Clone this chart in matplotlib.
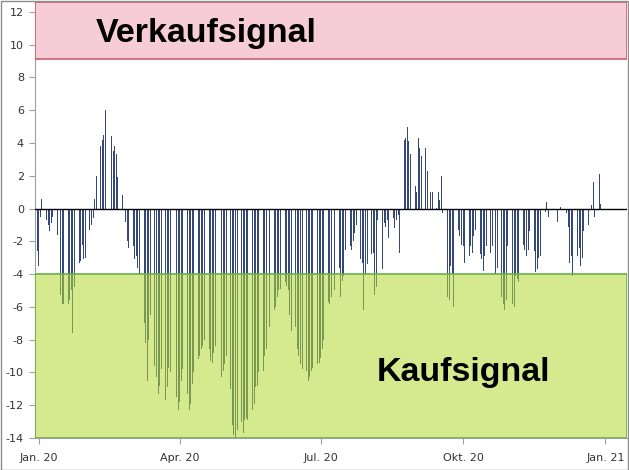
import matplotlib
matplotlib.use("Agg")
import matplotlib.pyplot as plt
import matplotlib.dates as mdates
import pandas as pd
import numpy as np

# ---- data (one line per trading week, starting Mon 30.12.2019) ----
values = [
    -2.3, -2.6, -3.5, -0.5, 0.6,
    -0.7, -1.0, -1.4, -0.9, -0.5,
    -1.6, -3.8, -5.3, -5.8, -5.8,
    -5.8, -5.6, -5.0, -7.6, -4.8,
    -3.3, -3.2, -2.2, -3.1, -3.0,
    -1.3, -1.0, -0.6, 0.6, 2.0,
    3.8, 4.2, 4.5, 6.0, 4.3,
    4.4, 3.5, 3.8, 3.3, 1.9,
    0.8, -0.3, -0.8, -2.0, -2.4,
    -2.3, -3.1, -2.9, -3.6, -4.0,
    -7.0, -8.2, -10.5, -8.0, -6.5,
    -9.6, -10.3, -11.3, -10.8, -9.8,
    -11.7, -10.9, -9.7, -10.0, -10.4,
    -11.5, -12.3, -11.8, -10.5, -9.8,
    -11.3, -12.3, -11.9, -10.7, -10.0,
    -9.2, -9.0, -8.6, -8.4, -8.0,
    -8.6, -9.3, -9.4, -8.8, -8.4,
    -9.6, -10.3, -9.9, -9.5, -9.0,
    -11.0, -13.2, -13.8, -14.0, -13.5,
    -13.0, -13.7, -12.9, -12.8, -12.9,
    -12.3, -11.9, -10.9, -10.8, -10.0,
    -9.9, -9.0, -8.6, -7.4, -7.2,
    -6.2, -6.0, -5.4, -5.0, -4.9,
    -4.5, -4.7, -5.0, -6.5, -7.5,
    -7.2, -8.6, -9.0, -9.5, -9.8,
    -9.9, -10.5, -10.3, -9.9, -9.7,
    -9.5, -9.4, -9.1, -8.6, -8.0,
    -5.7, -5.8, -5.4, -5.6, -5.0,
    -3.6, -5.4, -4.4, -4.1, -2.5,
    -2.3, -2.5, -2.0, -1.5, -1.0,
    -3.1, -3.3, -6.2, -4.0, -3.4,
    -2.8, -2.7, -5.3, -4.8, -0.7,
    -3.7, -0.9, -1.1, -0.7, -1.8,
    -0.6, -1.2, -0.7, -0.4, -2.7,
    4.2, 4.3, 5.0, 4.1, 3.3,
    1.4, 1.0, 4.3, 3.7, 3.2,
    3.7, 2.3, 2.2, 1.0, 1.0,
    0.05, 1.0, 0.5, 2.0, -0.3,
    -5.4, -5.6, -3.5, -4.0, -6.0,
    -1.3, -1.7, -2.2, -2.3, -3.3,
    -2.9, -2.3, -2.7, -1.7, -1.3,
    -2.8, -3.1, -3.8, -2.9, -2.3,
    -2.7, -2.3, -3.9, -4.0, -3.6,
    -5.4, -5.8, -6.2, -5.6, -2.3,
    -5.8, -6.0, -4.1, -4.3, -4.5,
    -2.2, -2.5, -2.9, -2.5, -1.4,
    -2.6, -3.9, -3.7, -3.0, -2.9,
    -0.2, 0.4, -0.5, -0.1, 0.0,
    0.0, -0.8, 0.0, 0.1, 0.0,
    -0.3, -1.1, -3.3, -2.9, -4.1,
    -2.9, -2.4, -3.5, -3.0, -1.4,
    -1.0, 0.5, 0.2, 1.6, -0.5,
    2.1, 0.3,
]
start_date = "2019-12-30"
tick_dates = ["2020-01-01", "2020-04-01", "2020-07-01", "2020-10-01", "2021-01-01"]
tick_labels = ["Jan. 20", "Apr. 20", "Jul. 20", "Okt. 20", "Jan. 21"]
sell_zone = (9.1, 12.6)
buy_zone = (-14.0, -4.0)
sell_label = "Verkaufsignal"
buy_label = "Kaufsignal"

dates = pd.bdate_range(start_date, periods=len(values))

fig = plt.figure(figsize=(6.29, 4.70), dpi=100)
ax = fig.add_axes([35 / 629, 32 / 470, 592 / 629, 436 / 470])

ax.bar(dates, values, width=0.62, color="#34497a", edgecolor="none",
       linewidth=0, antialiased=False, zorder=2)

ax.axhline(0, color="black", linewidth=1.0, zorder=3)

x0 = mdates.date2num(pd.Timestamp("2019-12-29 12:00"))
x1 = x0 + 382.4
ax.set_xlim(x0, x1)
ax.set_ylim(-14, 12.6)

# signal bands
ax.axhspan(sell_zone[0], sell_zone[1], facecolor="#f6cdd7", edgecolor="#cc5c70",
           linewidth=1.2, zorder=4)
ax.axhspan(buy_zone[0], buy_zone[1], facecolor="#b3da32", alpha=0.55,
           edgecolor="none", zorder=4)
ax.axhspan(buy_zone[0], buy_zone[1], facecolor="none", edgecolor="#66b24a",
           linewidth=1.2, zorder=5)

ax.text(0.103, 0.908, sell_label, transform=ax.transAxes, fontsize=24.5,
        fontweight="bold", family="Liberation Sans", color="black",
        va="baseline", ha="left", zorder=6)
ax.text(0.578, 0.131, buy_label, transform=ax.transAxes, fontsize=24.5,
        fontweight="bold", family="Liberation Sans", color="black",
        va="baseline", ha="left", zorder=6)

ax.set_yticks(np.arange(-14, 13, 2))
ax.set_yticklabels([str(v) for v in range(-14, 13, 2)])
ax.set_xticks([mdates.date2num(pd.Timestamp(d)) for d in tick_dates])
ax.set_xticklabels(tick_labels)

ax.tick_params(axis="y", direction="out", length=4, width=0.8, color="#a0a0a0",
               labelsize=8, labelcolor="#333333", pad=4)
ax.tick_params(axis="x", direction="out", length=4, width=0.8, color="#a0a0a0",
               labelsize=8, labelcolor="#333333", pad=7)

for s in ["top", "right"]:
    ax.spines[s].set_visible(False)
ax.spines["left"].set_color("#a0a0a0")
ax.spines["bottom"].set_color("#a0a0a0")

# outer chart border
fig.patches.append(plt.Rectangle((0.001, 0.001), 0.997, 0.997,
                                 transform=fig.transFigure, fill=False,
                                 edgecolor="#8c8c8c", linewidth=1.0))

fig.savefig("out.png", dpi=100)
